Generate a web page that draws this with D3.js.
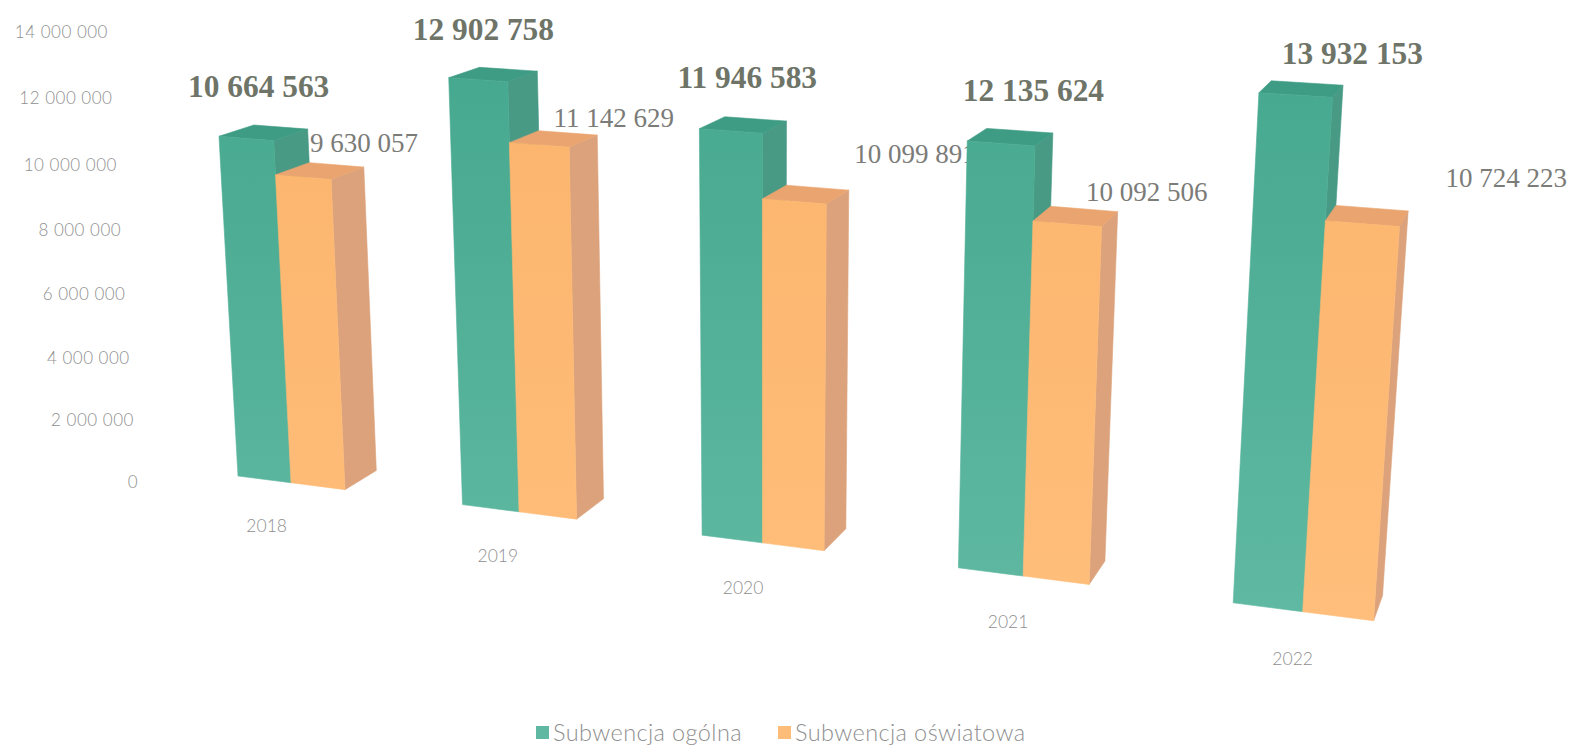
<!DOCTYPE html>
<html lang="pl">
<head>
<meta charset="utf-8">
<script src="https://cdn.jsdelivr.net/npm/d3@7/dist/d3.min.js"></script>
<style>
html,body{margin:0;padding:0;background:#fff;}
svg{display:block;}
.axis text,.year,.legend{font-family:Lato,"Open Sans",sans-serif;font-weight:300;fill:#8f8f8f;}
.lab{font-family:"Liberation Serif",serif;}
</style>
</head>
<body>
<svg id="c" width="1571" height="748"></svg>
<script>
// ---- data ----
const years = ["2018","2019","2020","2021","2022"];
const ogolna = [10664563,12902758,11946583,12135624,13932153];
const oswiatowa = [9630057,11142629,10099891,10092506,10724223];
const seriesNames = ["Subwencja ogólna","Subwencja oświatowa"];
const tickValues = [0,2000000,4000000,6000000,8000000,10000000,12000000,14000000];

// ---- styling and label layout ----
const faceFront = [["#46a98f","#60b9a2"],["#fbb46c","#ffbe7b"]];
const faceTop = ["#3f9c84","#e9a470"];
const faceSide = ["#489a85","#dba27c"];
const legendColors = ["#5fb8a1","#fdbd78"];
const ogolnaNudge = [[-5,-47],[-10,-45],[4,-48],[23,-47],[51,-36]];
const oswiatowaNudge = [[44,-28],[60,-21],[109,-41],[71,-25],[139,-38]];
const yearNudge = [0,6,11,19,28];

// ---- scales ----
const fmt = d3.formatLocale({decimal:",",thousands:"\u00a0",grouping:[3],currency:["",""]}).format(",d");
const catScale = d3.scalePoint().domain(years).range([0,4]);
const valScale = d3.scaleLinear().domain([0,14000000]).range([0,14]);
const axisScale = d3.scaleLinear().domain([0,14000000]).range([0,13.88]);
const seriesScale = d3.scaleLinear().domain([0,1,2]).range([0,0.242,0.4846]);

// perspective camera of the 3D chart: (category, height, depth) -> screen
function project(X,V,D){
  const w = 1 - 0.03154*X - 0.003266*V + 0.023*D;
  return [(238 + 209.9*X - 2.497*V + 39.5*D)/w,
          (476 + 12.7*X - 32.3*V - 8*D)/w];
}

const svg = d3.select("#c");
const defs = svg.append("defs");
[0,1].forEach(s=>{
  const g = defs.append("linearGradient").attr("id","front"+s)
    .attr("gradientUnits","userSpaceOnUse").attr("x1",0).attr("x2",0).attr("y1",70).attr("y2",620);
  g.append("stop").attr("offset",0).attr("stop-color",faceFront[s][0]);
  g.append("stop").attr("offset",1).attr("stop-color",faceFront[s][1]);
});

// y axis labels
const axis = svg.append("g").attr("class","axis");
axis.selectAll("text").data(tickValues).join("text")
  .attr("x",d=>project(-0.3311,axisScale(d),-0.8)[0])
  .attr("y",d=>project(-0.3311,axisScale(d),-0.8)[1])
  .attr("text-anchor","end").attr("dy","0.35em")
  .style("font-size","17px").style("letter-spacing","0.5px")
  .text(d=>d===0?"0":fmt(d));

// records
const bars = [];
years.forEach((y,i)=>{
  bars.push({y,s:0,v:ogolna[i],nudge:ogolnaNudge[i]});
  bars.push({y,s:1,v:oswiatowa[i],nudge:oswiatowaNudge[i]});
});

function anchor(d){
  const p = project(catScale(d.y)+(seriesScale(d.s)+seriesScale(d.s+1))/2, valScale(d.v), 0.5);
  return [p[0]+d.nudge[0], p[1]+d.nudge[1]];
}

// value labels sit behind the bars
svg.append("g").selectAll("text").data(bars).join("text")
  .attr("class","lab")
  .attr("x",d=>anchor(d)[0]).attr("y",d=>anchor(d)[1])
  .attr("text-anchor","middle").attr("dy","0.35em")
  .attr("font-weight",d=>d.s===0?"bold":"normal")
  .attr("font-size",d=>d.s===0?"31.4px":"27px")
  .attr("fill",d=>d.s===0?"#6e7467":"#7b7b78")
  .text(d=>fmt(d.v));

// bars
const poly = d3.line();
const barG = svg.append("g").selectAll("g").data(bars).join("g");
function face(pts){ return poly(pts.map(p=>project(p[0],p[1],p[2])))+"Z"; }
barG.append("path").attr("fill",d=>faceSide[d.s]).attr("stroke",d=>faceSide[d.s]).attr("stroke-width",0.6).attr("d",d=>{
  const X1=catScale(d.y)+seriesScale(d.s+1), V=valScale(d.v);
  return face([[X1,0,0],[X1,0,1],[X1,V,1],[X1,V,0]]);
});
barG.append("path").attr("fill",d=>faceTop[d.s]).attr("stroke",d=>faceTop[d.s]).attr("stroke-width",0.6).attr("d",d=>{
  const X0=catScale(d.y)+seriesScale(d.s), X1=catScale(d.y)+seriesScale(d.s+1), V=valScale(d.v);
  return face([[X0,V,0],[X0,V,1],[X1,V,1],[X1,V,0]]);
});
barG.append("path").attr("fill",d=>`url(#front${d.s})`).attr("stroke",d=>`url(#front${d.s})`).attr("stroke-width",0.6).attr("d",d=>{
  const X0=catScale(d.y)+seriesScale(d.s), X1=catScale(d.y)+seriesScale(d.s+1), V=valScale(d.v);
  return face([[X0,0,0],[X0,V,0],[X1,V,0],[X1,0,0]]);
});

// category labels
svg.append("g").selectAll("text").data(years).join("text")
  .attr("class","year")
  .attr("x",(d,i)=>project(catScale(d)+0.12,-1.5,0)[0]+yearNudge[i])
  .attr("y",d=>project(catScale(d)+0.12,-1.5,0)[1])
  .attr("text-anchor","middle").attr("dy","0.35em")
  .style("font-size","17.5px")
  .text(d=>d);

// legend
const legendX = d3.scaleOrdinal().domain(seriesNames).range([536,778]);
const lg = svg.append("g").selectAll("g").data(seriesNames).join("g")
  .attr("transform",d=>`translate(${legendX(d)},726)`);
lg.append("rect").attr("width",13).attr("height",13).attr("fill",(d,i)=>legendColors[i]);
lg.append("text").attr("class","legend").attr("x",17).attr("y",6.5).attr("dy","0.35em")
  .style("font-size","23.5px").style("letter-spacing","0.4px").text(d=>d);
</script>
</body>
</html>
